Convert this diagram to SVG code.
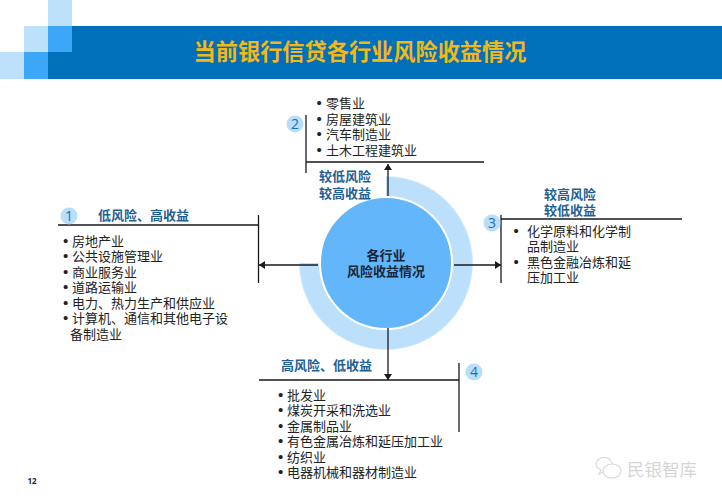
<svg xmlns="http://www.w3.org/2000/svg" width="722" height="500" viewBox="0 0 722 500">
<style>
text{font-family:"Noto Sans CJK SC","Noto Sans",sans-serif}
.t{font-size:13px;fill:#222}
.b{font-size:15px;fill:#222;font-family:"Liberation Sans",sans-serif}
.h{font-size:13px;font-weight:700;fill:#1f5f94}
.c{font-size:13px;font-weight:700;fill:#16263a;text-anchor:middle}
.n{font-size:14px;fill:#1f6fa8;text-anchor:middle;font-family:"Open Sans",sans-serif}
.d{fill:#b9def9}
.l{stroke:#1a1a1a;stroke-width:1.3;fill:none}
.a{stroke:#1a1a1a;stroke-width:1.3;fill:none;marker-end:url(#arrow)}
</style>
<defs>
<marker id="arrow" markerUnits="userSpaceOnUse" markerWidth="7" markerHeight="8" refX="6" refY="4" orient="auto"><path d="M0 0L6 4L0 8z" fill="#1a1a1a"/></marker>
</defs>
<rect width="722" height="500" fill="#fff"/>
<g id="header">
<path d="M72 26H722V79H48V52H72z" fill="#0070bb"/>
<rect x="48" y="0" width="24" height="26" fill="#bde0fb"/>
<rect x="24" y="26" width="24" height="26" fill="#bde0fb"/>
<rect x="48" y="26" width="24" height="26" fill="#3ba7f6"/>
<rect x="0" y="52" width="24" height="27" fill="#bde0fb"/>
<rect x="24" y="52" width="24" height="27" fill="#3ba7f6"/>
<text x="360" y="59.500" font-size="22.200" font-weight="700" fill="#f3b816" text-anchor="middle">当前银行信贷各行业风险收益情况</text>
</g>
<g id="hub">
<path d="M386 187A76 76 0 1 1 310 263" fill="none" stroke="#bcdffb" stroke-width="21"/>
<path d="M386 176.700A86.300 86.300 0 1 1 299.700 263" fill="none" stroke="#cfe8fc" stroke-width="1.500" stroke-dasharray="1 1"/>
<circle cx="386" cy="263" r="66" fill="#64b6fb" stroke="#fff" stroke-width="2"/>
<text class="c"><tspan x="386" y="260">各行业</tspan><tspan x="386" y="276">风险收益情况</tspan></text>
</g>
<g id="connectors">
<path class="a" d="M388 196V164"/>
<path class="a" d="M318 265H259"/>
<path class="a" d="M454 265H501"/>
<path class="a" d="M388 328V380"/>
</g>
<g id="node-1">
<path class="l" d="M58 225H258.500M258.500 215V283"/>
<circle class="d" cx="69" cy="216" r="8.500"/>
<text class="n" x="69" y="221">1</text>
<text class="h" x="98" y="220">低风险、高收益</text>
<text class="t"><tspan class="b" x="63" y="246">•</tspan><tspan x="72" y="246">房地产业</tspan><tspan class="b" x="63" y="261">•</tspan><tspan x="72" y="261">公共设施管理业</tspan><tspan class="b" x="63" y="277">•</tspan><tspan x="72" y="277">商业服务业</tspan><tspan class="b" x="63" y="292">•</tspan><tspan x="72" y="292">道路运输业</tspan><tspan class="b" x="63" y="308">•</tspan><tspan x="72" y="308">电力、热力生产和供应业</tspan><tspan class="b" x="63" y="323">•</tspan><tspan x="72" y="323">计算机、通信和其他电子设</tspan><tspan x="70" y="339">备制造业</tspan></text>
</g>
<g id="node-2">
<path class="l" d="M306 115V173M306 162H484"/>
<circle class="d" cx="295" cy="124" r="8.500"/>
<text class="n" x="295" y="129">2</text>
<text class="t"><tspan class="b" x="316.500" y="108">•</tspan><tspan x="326" y="108">零售业</tspan><tspan class="b" x="316.500" y="124">•</tspan><tspan x="326" y="124">房屋建筑业</tspan><tspan class="b" x="316.500" y="139">•</tspan><tspan x="326" y="139">汽车制造业</tspan><tspan class="b" x="316.500" y="155">•</tspan><tspan x="326" y="155">土木工程建筑业</tspan></text>
<text class="h"><tspan x="319" y="181">较低风险</tspan><tspan x="319" y="198">较高收益</tspan></text>
</g>
<g id="node-3">
<path class="l" d="M501 215V283M501 219H682"/>
<circle class="d" cx="492" cy="223" r="8.500"/>
<text class="n" x="492" y="228">3</text>
<text class="h"><tspan x="544" y="199">较高风险</tspan><tspan x="544" y="215">较低收益</tspan></text>
<text class="t"><tspan class="b" x="513.500" y="236">•</tspan><tspan x="527" y="236">化学原料和化学制</tspan><tspan x="527" y="251">品制造业</tspan><tspan class="b" x="513.500" y="267">•</tspan><tspan x="527" y="267">黑色金融冶炼和延</tspan><tspan x="527" y="282">压加工业</tspan></text>
</g>
<g id="node-4">
<path class="l" d="M259 380H459M459 363V432"/>
<circle class="d" cx="474" cy="372" r="8.500"/>
<text class="n" x="474" y="377">4</text>
<text class="h" x="281" y="370">高风险、低收益</text>
<text class="t"><tspan class="b" x="278" y="400">•</tspan><tspan x="287" y="400">批发业</tspan><tspan class="b" x="278" y="415">•</tspan><tspan x="287" y="415">煤炭开采和洗选业</tspan><tspan class="b" x="278" y="431">•</tspan><tspan x="287" y="431">金属制品业</tspan><tspan class="b" x="278" y="446">•</tspan><tspan x="287" y="446">有色金属冶炼和延压加工业</tspan><tspan class="b" x="278" y="462">•</tspan><tspan x="287" y="462">纺织业</tspan><tspan class="b" x="278" y="477">•</tspan><tspan x="287" y="477">电器机械和器材制造业</tspan></text>
</g>
<g id="footer">
<text x="32" y="484" font-size="8" font-weight="700" fill="#16263a" text-anchor="middle" style="font-family:'Open Sans',sans-serif">12</text>
<g fill="#fff" stroke="#dadada" stroke-width="1.200">
<path d="M612 465a8 6.500 0 1 0-11 5l-2 4 5-2.500"/>
<ellipse cx="612" cy="471" rx="9" ry="7"/>
</g>
<text x="627" y="476" font-size="17.500" fill="#d6d6d6">民银智库</text>
</g>
</svg>
